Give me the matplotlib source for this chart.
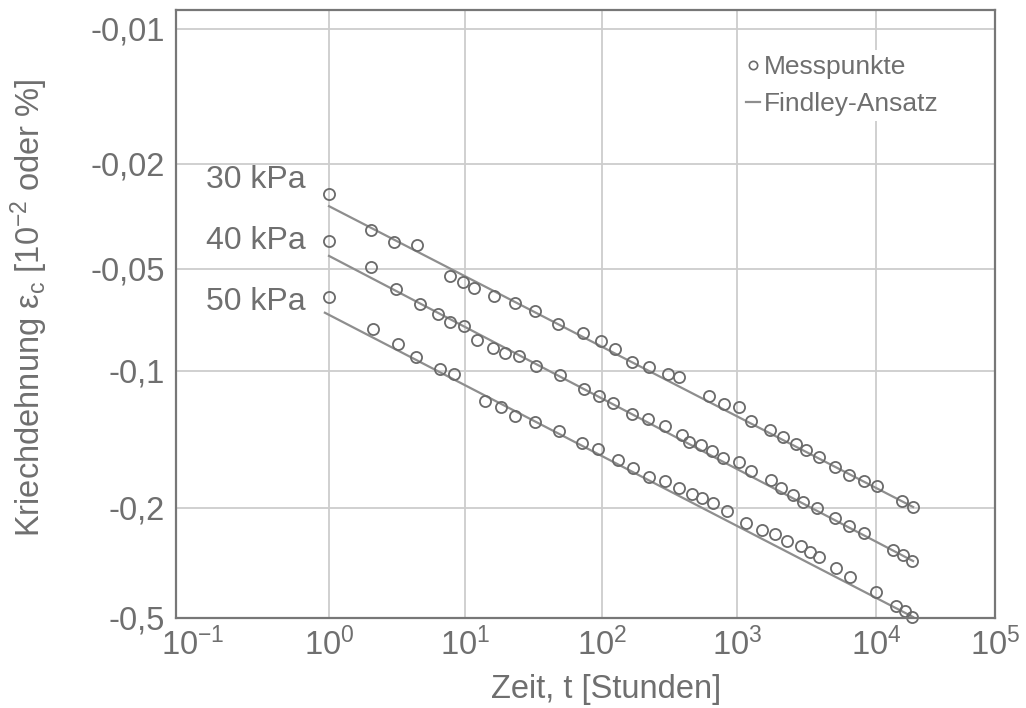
import numpy as np
import matplotlib
matplotlib.use('Agg')
import matplotlib.pyplot as plt
from matplotlib.ticker import FixedLocator, NullLocator
from matplotlib.lines import Line2D
from matplotlib.transforms import ScaledTranslation

plt.rcParams['font.family'] = ['Liberation Sans', 'DejaVu Sans']
plt.rcParams['mathtext.fontset'] = 'custom'
plt.rcParams['mathtext.rm'] = 'Liberation Sans'
plt.rcParams['mathtext.it'] = 'Liberation Sans:italic'
plt.rcParams['mathtext.bf'] = 'Liberation Sans:bold'

# Messpunkte (Zeit in Stunden, Kriechdehnung)
t_30 = [1.0, 2.04, 3.02, 4.46, 7.76, 9.62, 11.6, 16.3, 23.3, 32.7, 47.7, 72.3, 98.4, 125,
        167, 224, 310, 374, 620, 797, 1030, 1255, 1728, 2160, 2657, 3136, 3910, 5095,
        6425, 8195, 10140, 16440, 20650]
eps_30 = [-0.0259, -0.0356, -0.0396, -0.0406, -0.0523, -0.0547, -0.0569, -0.0599, -0.0629,
          -0.0663, -0.0725, -0.0771, -0.0817, -0.0863, -0.0942, -0.0973, -0.1015, -0.1031,
          -0.1133, -0.1182, -0.1199, -0.1288, -0.1349, -0.1399, -0.1445, -0.1492, -0.1543,
          -0.1628, -0.1690, -0.1748, -0.1791, -0.1932, -0.1991]

t_40 = [1.0, 2.04, 3.11, 4.67, 6.36, 7.76, 9.83, 12.3, 16.1, 19.6, 24.7, 33.0, 49.0, 74.3,
        95.6, 120, 167, 219, 293, 391, 443, 541, 656, 791, 1030, 1255, 1748, 2080, 2520,
        3000, 3782, 5070, 6425, 8195, 13810, 16960, 20260]
eps_40 = [-0.0392, -0.0491, -0.0574, -0.0634, -0.0678, -0.0716, -0.0736, -0.0810, -0.0854,
          -0.0883, -0.0903, -0.0966, -0.1020, -0.1097, -0.1137, -0.1178, -0.1245, -0.1273,
          -0.1319, -0.1385, -0.1430, -0.1457, -0.1497, -0.1551, -0.1588, -0.1660, -0.1733,
          -0.1806, -0.1871, -0.1939, -0.2005, -0.2169, -0.2324, -0.2457, -0.2831, -0.2959,
          -0.3111]

t_50 = [1.0, 2.10, 3.23, 4.36, 6.55, 8.30, 14.0, 18.3, 23.3, 32.3, 48.2, 71.5, 94.0, 131,
        171, 222, 293, 374, 462, 555, 664, 839, 1160, 1518, 1892, 2308, 2873, 3352, 3910,
        5155, 6500, 10000, 14720, 17520, 20180]
eps_50 = [-0.0605, -0.0752, -0.0834, -0.0907, -0.0986, -0.1017, -0.1162, -0.1202, -0.1254,
          -0.1294, -0.1354, -0.1438, -0.1485, -0.1569, -0.1634, -0.1710, -0.1748, -0.1809,
          -0.1862, -0.1906, -0.1952, -0.2050, -0.2261, -0.2402, -0.2484, -0.2633, -0.2746,
          -0.2878, -0.3001, -0.3306, -0.3545, -0.4018, -0.4527, -0.4709, -0.4949]

# Findley-Ansatz: Anfangs- und Endpunkt je Laststufe
fit_t_30, fit_eps_30 = [1.0, 20500], [-0.0289, -0.1990]
fit_t_40, fit_eps_40 = [1.0, 20500], [-0.0446, -0.3111]
fit_t_50, fit_eps_50 = [0.94, 20500], [-0.0673, -0.4959]

load_labels = ['30 kPa', '40 kPa', '50 kPa']
label_t = [0.70, 0.70, 0.70]
label_eps = [-0.0230, -0.0392, -0.0626]

x_exponents = [-1, 0, 1, 2, 3, 4, 5]
x_ticklabels = [r'$\mathregular{10^{%d}}$' % e for e in x_exponents]
y_ticks = [-0.01, -0.02, -0.05, -0.1, -0.2, -0.5]
y_ticklabels = ['-0,01', '-0,02', '-0,05', '-0,1', '-0,2', '-0,5']

# the drawn axes are not evenly spaced, so both scales are piecewise
x_knot_pos = np.array([176, 329, 465, 602, 737, 876, 995], float)
y_knot_pos = np.array([29, 164, 269, 371, 508, 618], float)


def lin_ext(x, xp, fp):
    x = np.asarray(x, float)
    y = np.interp(x, xp, fp)
    y = np.where(x < xp[0], fp[0] + (x - xp[0]) * (fp[1] - fp[0]) / (xp[1] - xp[0]), y)
    y = np.where(x > xp[-1], fp[-1] + (x - xp[-1]) * (fp[-1] - fp[-2]) / (xp[-1] - xp[-2]), y)
    return y


x_logs = np.array(x_exponents, float)
y_logs = np.log10(-np.array(y_ticks))


def x_fwd(t):
    with np.errstate(divide='ignore', invalid='ignore'):
        return lin_ext(np.log10(np.clip(t, 1e-30, None)), x_logs, x_knot_pos)


def x_inv(p):
    return 10 ** lin_ext(p, x_knot_pos, x_logs)


def y_fwd(v):
    with np.errstate(divide='ignore', invalid='ignore'):
        return -lin_ext(np.log10(np.clip(-np.asarray(v, float), 1e-30, None)), y_logs, y_knot_pos)


def y_inv(p):
    return -10 ** lin_ext(-np.asarray(p, float), y_knot_pos, y_logs)


text_c = '#6f6f6f'
mark_c = '#6a6a6a'
line_c = '#8e8e8e'
grid_c = '#cdcdcd'
spine_c = '#777777'

fig = plt.figure(figsize=(10.26, 7.08), dpi=100)
ax = fig.add_axes([176 / 1026, 1 - 618 / 708, (995 - 176) / 1026, (618 - 10) / 708])
ax.set_xscale('function', functions=(x_fwd, x_inv))
ax.set_yscale('function', functions=(y_fwd, y_inv))

for ft, fe in [(fit_t_30, fit_eps_30), (fit_t_40, fit_eps_40), (fit_t_50, fit_eps_50)]:
    ax.plot(ft, fe, color=line_c, lw=1.6, zorder=3)

for t, e in [(t_30, eps_30), (t_40, eps_40), (t_50, eps_50)]:
    ax.plot(t, e, ls='none', marker='o', ms=8, mfc='none', mec=mark_c, mew=1.3,
            zorder=4, clip_on=False)

for lab, lt, le in zip(load_labels, label_t, label_eps):
    ax.text(lt, le, lab, ha='right', va='center', fontsize=23, color=text_c)

ax.set_xlim(10.0 ** x_exponents[0], 10.0 ** x_exponents[-1])
ax.set_ylim(y_ticks[-1], float(y_inv(-10)))

ax.xaxis.set_major_locator(FixedLocator([10.0 ** e for e in x_exponents]))
ax.xaxis.set_minor_locator(NullLocator())
ax.set_xticklabels(x_ticklabels)
ax.yaxis.set_major_locator(FixedLocator(y_ticks))
ax.yaxis.set_minor_locator(NullLocator())
ax.set_yticklabels(y_ticklabels)

ax.grid(True, color=grid_c, lw=1.3)
ax.set_axisbelow(True)
ax.tick_params(axis='both', length=0, labelsize=23.5, colors=text_c)
ax.tick_params(axis='x', pad=7)
ax.tick_params(axis='y', pad=8)
for s in ax.spines.values():
    s.set_color(spine_c)
    s.set_linewidth(1.6)
    s.set_zorder(5)

ax.set_xlabel('Zeit, t [Stunden]', fontsize=23.5, color=text_c)
ax.xaxis.set_label_coords(0.525, -0.092)
ax.set_ylabel(r'Kriechdehnung ε$_\mathregular{c}$ [10$^\mathregular{-2}$ oder %]',
              fontsize=23.5, color=text_c)
ax.yaxis.set_label_coords(-0.154, 0.51)

# first time label sits a little right of the corner
first = ax.get_xticklabels()[0]
first.set_transform(first.get_transform() + ScaledTranslation(12 / 72, 0, fig.dpi_scale_trans))

handles = [Line2D([], [], ls='none', marker='o', ms=6, mfc='none', mec=mark_c, mew=1.2),
           Line2D([], [], color=line_c, lw=1.6)]
leg = ax.legend(handles, ['Messpunkte', 'Findley-Ansatz'], loc='upper left',
                bbox_to_anchor=(0.69, 0.935), frameon=True, fancybox=False,
                facecolor='white', edgecolor='none', framealpha=1, fontsize=19,
                handlelength=0.5, handletextpad=0.15, labelspacing=0.5,
                borderpad=0.2, borderaxespad=0)
for txt in leg.get_texts():
    txt.set_color(text_c)

fig.savefig('out.png', dpi=100)
